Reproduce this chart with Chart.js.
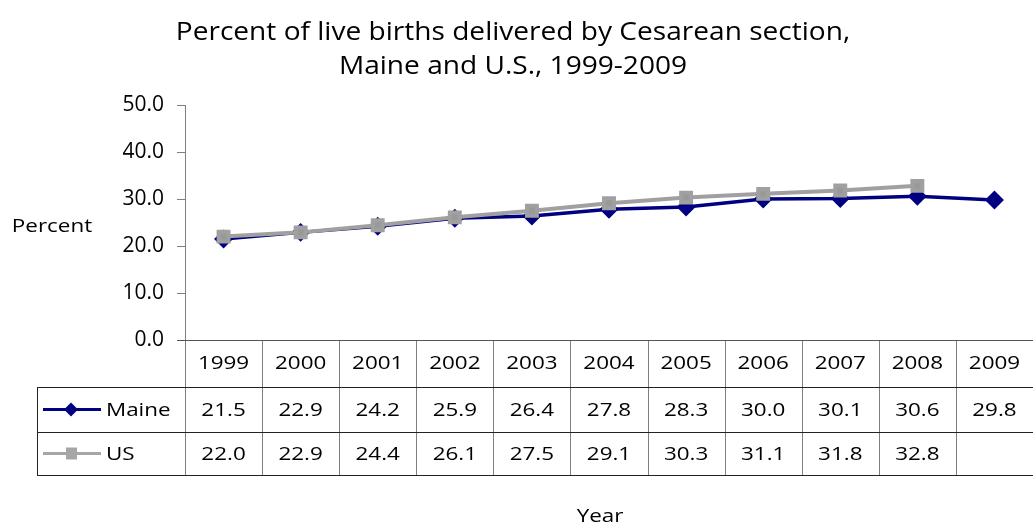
<!DOCTYPE html>
<html>
<head>
<meta charset="utf-8">
<script src="https://cdn.jsdelivr.net/npm/chart.js@4"></script>
<style>
  html, body { margin: 0; padding: 0; background: #fff; }
  #wrap { width: 1033px; height: 525px; }
</style>
</head>
<body>
<div id="wrap"><canvas id="grafico" width="1033" height="525"></canvas></div>
<script>
// dados
const anos = ['1999', '2000', '2001', '2002', '2003', '2004', '2005', '2006', '2007', '2008', '2009'];
const maine = [21.5, 22.9, 24.2, 25.9, 26.4, 27.8, 28.3, 30.0, 30.1, 30.6, 29.8];
const us = [22.0, 22.9, 24.4, 26.1, 27.5, 29.1, 30.3, 31.1, 31.8, 32.8, null];
const titulo = ['Percent of live births delivered by Cesarean section,', 'Maine and U.S., 1999-2009'];

const FONTE = '"Open Sans", Lato, sans-serif';
const corMaine = '#000080';
const corUS = '#a0a0a0';

// texto um pouco esticado na horizontal (como no original)
function texto(ctx, str, x, y, tam, sx, alinhar) {
    ctx.save();
    ctx.font = tam + 'px ' + FONTE;
    ctx.textAlign = alinhar || 'center';
    ctx.textBaseline = 'middle';
    ctx.translate(x, y);
    ctx.scale(sx, 1);
    ctx.fillText(str, 0, 0);
    ctx.restore();
}

// tabela de dados abaixo do gráfico
const tabelaPlugin = {
    id: 'tabela',
    afterDraw(chart) {
        const ctx = chart.ctx;
        const area = chart.chartArea;
        const x = chart.scales.x;
        const w = (area.right - area.left) / anos.length;
        const topo = area.bottom;
        const linhas = [topo, topo + 47, topo + 92, topo + 135];

        ctx.save();
        ctx.fillStyle = '#000';

        // título
        texto(ctx, titulo[0], 513, 33, 26, 1.08);
        texto(ctx, titulo[1], 513, 67, 26, 1.08);

        // rótulos dos eixos
        texto(ctx, 'Percent', 52, 227, 19, 1.18);
        texto(ctx, 'Year', 600, 517, 19, 1.18);

        // linhas verticais
        ctx.strokeStyle = '#7f7f7f';
        ctx.lineWidth = 1;
        for (let i = 0; i <= anos.length; i++) {
            const px = Math.round(area.left + i * w) + 0.5;
            ctx.beginPath();
            ctx.moveTo(px, linhas[0]);
            ctx.lineTo(px, linhas[3]);
            ctx.stroke();
        }

        // linha do eixo x (zero)
        ctx.strokeStyle = '#555';
        ctx.beginPath();
        ctx.moveTo(area.left - 8, linhas[0] + 0.5);
        ctx.lineTo(area.right, linhas[0] + 0.5);
        ctx.stroke();

        // linhas horizontais
        ctx.strokeStyle = '#222';
        [1, 2, 3].forEach(k => {
            ctx.beginPath();
            ctx.moveTo(37, linhas[k] + 0.5);
            ctx.lineTo(area.right, linhas[k] + 0.5);
            ctx.stroke();
        });
        ctx.beginPath();
        ctx.moveTo(37.5, linhas[1]);
        ctx.lineTo(37.5, linhas[3] + 1);
        ctx.stroke();

        // valores
        anos.forEach((ano, i) => {
            const cx = x.getPixelForValue(i);
            texto(ctx, ano, cx, (linhas[0] + linhas[1]) / 2, 19, 1.18);
            texto(ctx, maine[i].toFixed(1), cx, (linhas[1] + linhas[2]) / 2 + 1, 19, 1.18);
            if (us[i] !== null) {
                texto(ctx, us[i].toFixed(1), cx, (linhas[2] + linhas[3]) / 2 + 1, 19, 1.18);
            }
        });

        // legenda
        const series = [
            { nome: 'Maine', cor: corMaine, y: (linhas[1] + linhas[2]) / 2 },
            { nome: 'US', cor: '#a6a6a6', y: (linhas[2] + linhas[3]) / 2 }
        ];
        series.forEach((s, k) => {
            ctx.strokeStyle = s.cor;
            ctx.fillStyle = s.cor;
            ctx.lineWidth = 3;
            ctx.beginPath();
            ctx.moveTo(43, s.y);
            ctx.lineTo(101, s.y);
            ctx.stroke();
            ctx.beginPath();
            if (k === 0) {
                ctx.moveTo(71, s.y - 7);
                ctx.lineTo(78, s.y);
                ctx.lineTo(71, s.y + 7);
                ctx.lineTo(64, s.y);
                ctx.closePath();
            } else {
                ctx.rect(66, s.y - 6, 11, 12);
            }
            ctx.fill();
            ctx.fillStyle = '#000';
            texto(ctx, s.nome, 106, s.y + 1, 19, 1.18, 'left');
        });

        ctx.restore();
    }
};

new Chart(document.getElementById('grafico'), {
    type: 'line',
    data: {
        labels: anos,
        datasets: [{
            label: 'Maine',
            data: maine,
            borderColor: corMaine,
            backgroundColor: corMaine,
            borderWidth: 3.5,
            pointStyle: 'rectRot',
            pointRadius: 7,
            pointHoverRadius: 7,
            tension: 0,
            order: 2
        }, {
            label: 'US',
            data: us,
            borderColor: corUS,
            backgroundColor: '#999999',
            borderWidth: 4,
            pointStyle: 'rect',
            pointRadius: 7,
            pointHoverRadius: 7,
            tension: 0,
            order: 1
        }]
    },
    options: {
        responsive: false,
        animation: false,
        layout: { autoPadding: false, padding: { left: 0, right: 0, top: 105, bottom: 185 } },
        plugins: {
            legend: { display: false },
            tooltip: { enabled: false }
        },
        scales: {
            x: {
                display: false,
                offset: true
            },
            y: {
                min: 0,
                max: 50,
                afterFit: s => { s.width = 185; },
                ticks: {
                    stepSize: 10,
                    color: '#000',
                    padding: 13,
                    font: { family: FONTE, size: 21 },
                    callback: v => v.toFixed(1)
                },
                grid: {
                    drawOnChartArea: false,
                    tickLength: 8,
                    color: '#7f7f7f'
                },
                border: { color: '#7f7f7f' }
            }
        }
    },
    plugins: [tabelaPlugin]
});
</script>
</body>
</html>
